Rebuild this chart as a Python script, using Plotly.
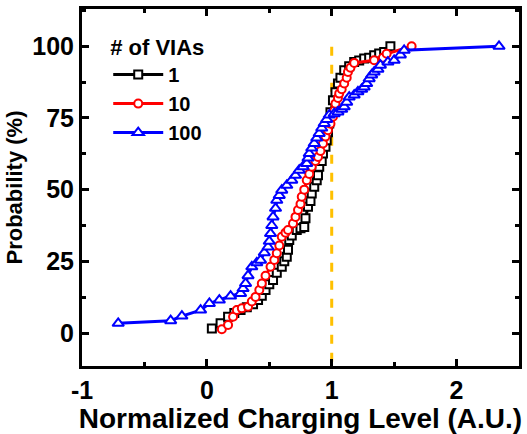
import plotly.graph_objects as go

# ---- data ----
x_1 = [0.04,0.11,0.17,0.22,0.27,0.32,0.37,0.41,0.44,0.47,0.50,0.53,0.56,0.60,0.62,0.64,0.65,0.66,0.68,0.72,0.75,0.78,0.79,0.81,0.83,0.84,0.86,0.88,0.89,0.90,0.92,0.93,0.95,0.96,0.97,0.98,0.99,1.01,1.03,1.05,1.07,1.10,1.14,1.18,1.22,1.26,1.30,1.34,1.38,1.42,1.47]
y_1 = [1.6,3.4,5.7,7,8,9,10,11.5,13,15,17,18.5,21,23.1,25,26.6,29,32.4,34,35.9,36.5,37,40,44,46,48.7,51,53.3,55,58,60,62.6,65,67.2,70,73.1,77,81.2,84,87,89,91.6,93,94.5,95,95.7,96,96.9,97.5,98,100]

x_10 = [0.12,0.17,0.21,0.24,0.28,0.33,0.36,0.39,0.42,0.44,0.47,0.51,0.54,0.56,0.58,0.60,0.63,0.65,0.69,0.71,0.73,0.75,0.76,0.78,0.80,0.82,0.84,0.87,0.89,0.91,0.93,0.95,0.97,0.99,1.01,1.02,1.03,1.05,1.06,1.08,1.10,1.12,1.13,1.15,1.18,1.34,1.41,1.44,1.64]
y_10 = [1.3,2.8,5.7,8,8.6,9.2,11,12.6,15,17.3,20,23.1,25.5,27.8,30.5,33.6,35,35.9,38.2,40.5,42.9,45,47.5,50,53.3,55.5,58,60,61.4,63.5,66.1,68.5,70.7,73,75.4,77.5,80,82,83.5,85,87,89,91,92.5,94.2,95.1,96,97.4,100]

x_100 = [-0.71,-0.29,-0.20,-0.05,0.02,0.10,0.19,0.27,0.29,0.31,0.33,0.36,0.40,0.43,0.46,0.49,0.50,0.51,0.52,0.53,0.55,0.56,0.58,0.60,0.64,0.68,0.71,0.74,0.77,0.80,0.81,0.82,0.84,0.86,0.88,0.90,0.92,0.94,0.96,0.98,1.02,1.05,1.08,1.10,1.12,1.14,1.18,1.21,1.24,1.26,1.28,1.30,1.32,1.34,1.37,1.39,1.45,1.50,1.55,1.58,2.34]
y_100 = [3.4,4.3,5.9,8.0,10.3,11.5,12.9,13.8,15.5,17.3,20,23.1,24.5,25.4,28,30,32,34.7,37.5,40.5,43.5,46.3,48,49.8,51.5,53.3,55,56.8,58,59.1,61,62.6,64.5,66.1,68,69.6,71.5,73.1,74.5,76,76.5,77.1,78,78.9,80.5,82.3,83,84.1,85,85.8,87,88.7,90,91,92,93.4,94.5,95.1,97,98.6,100]

series_names = ["1", "10", "100"]
ref_x = 1.0
ref_y = [-10, 102]
x_ticks = [-1, 0, 1, 2]
x_ticktext = ["-1", "0", "1", "2"]
y_ticks = [0, 25, 50, 75, 100]

FONT = "Liberation Sans, Arial, sans-serif"

fig = go.Figure()
styles = [("black", "square", 8), ("#ff0000", "circle", 8), ("#0000ff", "triangle-up", 10)]
for (xs, ys), name, (col, sym, sz) in zip([(x_1, y_1), (x_10, y_10), (x_100, y_100)], series_names, styles):
    fig.add_trace(go.Scatter(
        x=xs, y=ys, name=name, mode="lines+markers",
        line=dict(color=col, width=3),
        marker=dict(symbol=sym, size=sz, color="white", line=dict(color=col, width=2)),
    ))

fig.add_shape(type="line", xref="x", yref="y", x0=ref_x, x1=ref_x, y0=ref_y[0], y1=ref_y[1],
              line=dict(color="#FFC000", width=3, dash="dash"), layer="below")

axis_common = dict(
    showline=True, linecolor="black", linewidth=3, mirror="ticks",
    ticks="inside", ticklen=7, tickwidth=2.5, tickcolor="black",
    showgrid=False, zeroline=False,
    tickfont=dict(family=FONT, size=25, color="black", weight="bold"),
)

fig.update_xaxes(range=[-1, 2.5], tickvals=x_ticks, ticktext=x_ticktext,
                 minor=dict(dtick=0.5, ticks="inside", ticklen=4, tickwidth=2.5, tickcolor="black"),
                 title=dict(text="Normalized Charging Level (A.U.)", standoff=2,
                            font=dict(family=FONT, size=28, color="black", weight="bold")),
                 **axis_common)
fig.update_yaxes(range=[-11.5, 113], tickvals=y_ticks,
                 minor=dict(dtick=12.5, ticks="inside", ticklen=4, tickwidth=2.5, tickcolor="black"),
                 title=dict(text="Probability (%)", standoff=4,
                            font=dict(family=FONT, size=22, color="black", weight="bold")),
                 **axis_common)

fig.update_layout(
    width=527, height=434,
    margin=dict(l=82, r=5, t=9, b=68),
    paper_bgcolor="white", plot_bgcolor="white",
    showlegend=True,
    legend=dict(x=0.06, y=0.951, xanchor="left", yanchor="top",
                bgcolor="rgba(0,0,0,0)", itemwidth=50,
                title=dict(text="# of VIAs", font=dict(family=FONT, size=22, color="black", weight="bold")),
                font=dict(family=FONT, size=20, color="black", weight="bold"),
                tracegroupgap=0),
)

fig.write_html("out.html")
